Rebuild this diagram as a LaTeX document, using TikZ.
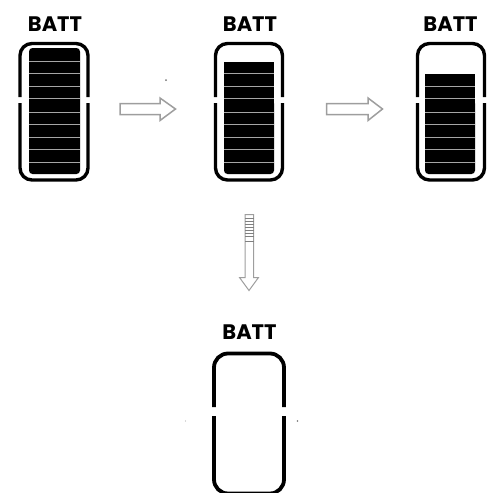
\documentclass[tikz,border=0pt]{standalone}
\usepackage{fontspec}
\setmainfont{Poppins}
\tikzset{
  shell/.style={line width=3.4pt,black,rounded corners=12pt},
  cellfill/.style={fill=black},
  cellgap/.style={draw=black!35,line width=.9pt},
  battlabel/.style={font=\fontsize{21}{20}\selectfont\bfseries,inner sep=0pt,anchor=center},
  blockarrow/.style={draw=black!38,line width=1.5pt,fill=white,line join=miter},
  speck/.style={fill=black!55,draw=none}
}
\begin{document}
\begin{tikzpicture}[x=1pt,y=-1pt]
\useasboundingbox (0,0) rectangle (491,493);
% labels
\node[battlabel] (l1) at (55,24.5) {BATT};
\node[battlabel] (l2) at (250,24.5) {BATT};
\node[battlabel] (l3) at (450.5,24.5) {BATT};
\node[battlabel] (l4) at (249.5,332.5) {BATT};
% battery 1
\fill[cellfill,rounded corners=3.5pt] (29,48) rectangle (80,174);
\foreach \y in {61,73,86,98,112,124,137,149,162} \draw[cellgap] (29,\y) -- (80,\y);
\draw[shell] (20,97) -- (20,43.5) -- (88,43.5) -- (88,97);
\draw[shell] (20,103) -- (20,180) -- (88,180) -- (88,103);
% battery 2
\fill[cellfill,rounded corners=3.5pt] (224,100) -- (224,174) -- (274,174) -- (274,100) -- cycle;
\fill[cellfill] (224,62) rectangle (274,120);
\foreach \y in {73,86,98,112,124,137,149,162} \draw[cellgap] (224,\y) -- (274,\y);
\draw[shell] (215.5,97) -- (215.5,43.5) -- (282.5,43.5) -- (282.5,97);
\draw[shell] (215.5,103) -- (215.5,180) -- (282.5,180) -- (282.5,103);
% battery 3
\fill[cellfill,rounded corners=3.5pt] (425,100) -- (425,174) -- (475,174) -- (475,100) -- cycle;
\fill[cellfill] (425,74) rectangle (475,120);
\foreach \y in {86,98,112,124,137,149,162} \draw[cellgap] (425,\y) -- (475,\y);
\draw[shell] (417.5,97) -- (417.5,43.5) -- (484.5,43.5) -- (484.5,97);
\draw[shell] (417.5,103) -- (417.5,180) -- (484.5,180) -- (484.5,103);
% battery 4
\draw[shell,line width=3.8pt,rounded corners=14pt] (214,407) -- (214,353.5) -- (284,353.5) -- (284,407);
\draw[shell,line width=3.8pt,rounded corners=14pt] (214,416) -- (214,493.5) -- (284,493.5) -- (284,416);
% arrows
\draw[blockarrow] (120,103.5) -- (160,103.5) -- (160,98) -- (175.5,109) -- (160,120.5) -- (160,114.5) -- (120,114.5) -- cycle;
\draw[blockarrow] (326.5,103.5) -- (368,103.5) -- (368,98) -- (382.5,109) -- (368,120.5) -- (368,114.5) -- (326.5,114.5) -- cycle;
\draw[blockarrow,line width=1pt] (245,214.5) -- (253.5,214.5) -- (253.5,277.5) -- (258.5,277.5) -- (249,290.5) -- (239.5,277.5) -- (245,277.5) -- cycle;
\foreach \y in {218,221,224,227,230,233,236,241} \draw[draw=black!50,line width=.8pt] (245,\y) -- (253.5,\y);
% specks
\fill[speck] (166,80) circle (1pt);
\fill[speck,fill=black!30] (185.5,421) circle (.7pt);
\fill[speck] (297.5,421) circle (.8pt);
\end{tikzpicture}
\end{document}
